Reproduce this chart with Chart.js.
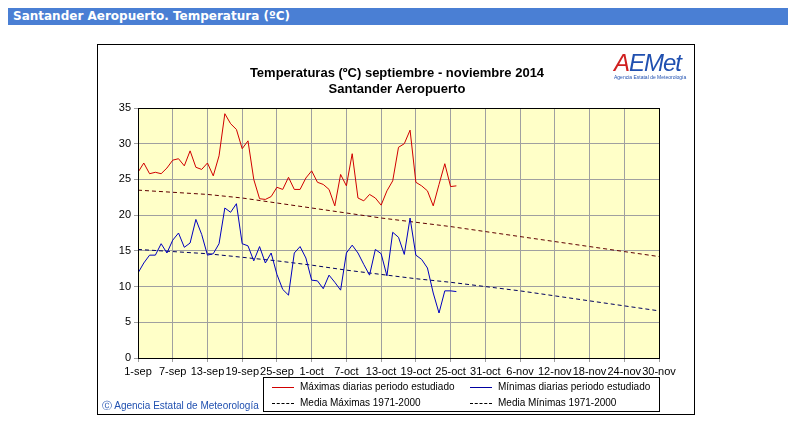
<!DOCTYPE html>
<html><head><meta charset="utf-8">
<script src="https://cdn.jsdelivr.net/npm/chart.js@4"></script>
<style>
body{margin:0;background:#fff;font-family:"Liberation Sans",Arial,sans-serif;}
#hdr{position:absolute;left:8px;top:8px;width:780px;height:17px;background:#4a7fd4;color:#fff;font:bold 12px Verdana,"DejaVu Sans",sans-serif;line-height:17px;padding-left:5px;box-sizing:border-box;}
#box{position:absolute;left:97px;top:44px;width:598px;height:371px;border:1px solid #000;box-sizing:border-box;}
#cv{position:absolute;left:0;top:0;}
#ttl{position:absolute;left:0;width:598px;top:20px;text-align:center;font:bold 13px "Liberation Sans",Arial;color:#000;line-height:16px;}
#logo{position:absolute;left:516px;top:4px;font:italic 24px "Liberation Sans";color:#2050b0;letter-spacing:-1px;}
#logo span{color:#d02020}
#logo small{display:block;font:normal 5px "Liberation Sans";color:#2050b0;margin-top:-3px;white-space:nowrap;letter-spacing:0;}
#leg{position:absolute;left:165px;top:332px;width:397px;height:35px;border:1px solid #000;box-sizing:border-box;font:10px "Liberation Sans";white-space:nowrap;}
.it{position:absolute;height:14px;line-height:14px;}
.ln{display:inline-block;width:22px;vertical-align:middle;margin-right:6px;margin-left:8px;}
#foot{position:absolute;left:4px;top:354px;font:10px "Liberation Sans";color:#2050b0;}
</style></head><body>
<div id="hdr">Santander Aeropuerto. Temperatura (ºC)</div>
<div id="box">
<canvas id="cv" width="596" height="369"></canvas>
<div id="ttl">Temperaturas (ºC) septiembre - noviembre 2014<br>Santander Aeropuerto</div>
<div id="logo"><span>A</span>EMet<small>Agencia Estatal de Meteorología</small></div>
<div id="leg">
<div class="it" style="left:0;top:2px"><span class="ln" style="border-top:1px solid #d00000"></span>Máximas diarias periodo estudiado</div>
<div class="it" style="left:198px;top:2px"><span class="ln" style="border-top:1px solid #0000a0"></span>Mínimas diarias periodo estudiado</div>
<div class="it" style="left:0;top:18px"><span class="ln" style="border-top:1px dashed #000"></span>Media Máximas 1971-2000</div>
<div class="it" style="left:198px;top:18px"><span class="ln" style="border-top:1px dashed #000"></span>Media Mínimas 1971-2000</div>
</div>
<div id="foot">Ⓒ Agencia Estatal de Meteorología</div>
</div>
<script>
const tickLabels=["1-sep","7-sep","13-sep","19-sep","25-sep","1-oct","7-oct","13-oct","19-oct","25-oct","31-oct","6-nov","12-nov","18-nov","24-nov","30-nov"];
const maxDaily=[26.0,27.3,25.8,26.0,25.8,26.6,27.7,27.9,26.9,29.0,26.7,26.4,27.3,25.5,28.3,34.2,32.8,32.0,29.3,30.4,25.0,22.3,22.2,22.6,23.9,23.6,25.3,23.6,23.6,25.2,26.2,24.6,24.3,23.6,21.3,25.7,24.1,28.6,22.4,22.0,22.9,22.4,21.4,23.4,24.8,29.5,30.0,31.9,24.6,24.1,23.4,21.3,24.3,27.2,24.0,24.1];
const minDaily=[11.9,13.3,14.4,14.4,16.0,14.7,16.5,17.5,15.5,16.1,19.4,17.3,14.4,14.6,16.0,21.0,20.4,21.6,16.0,15.7,13.6,15.6,13.3,14.7,11.7,9.6,8.8,14.7,15.6,14.0,10.9,10.8,9.7,11.6,10.6,9.5,14.7,15.8,14.7,13.1,11.6,15.2,14.6,11.5,17.6,16.9,14.5,19.6,14.4,13.8,12.6,9.1,6.3,9.4,9.4,9.3];
const meanMax=[23.5,23.2,22.9,22.4,21.7,21.0,20.3,19.6,19.0,18.4,17.7,17.0,16.3,15.6,14.9,14.2];
const meanMin=[15.2,14.9,14.6,14.1,13.6,13.0,12.3,11.7,11.1,10.6,10.0,9.4,8.7,8.0,7.3,6.6];
const daily=a=>a.map((y,i)=>({x:i,y}));
const atTicks=a=>a.map((y,i)=>({x:i*6,y}));
const bg={id:'bg',beforeDraw(c){const a=c.chartArea,x=c.ctx;x.save();x.fillStyle='#ffffc8';x.fillRect(a.left,a.top,a.right-a.left,a.bottom-a.top);x.restore();},
afterDraw(c){const a=c.chartArea,x=c.ctx;x.save();x.strokeStyle='#000';x.lineWidth=1;x.strokeRect(a.left+0.5,a.top+0.5,a.right-a.left,a.bottom-a.top);x.restore();}};
const gridOpts={color:'#a0a0a0',tickLength:4,lineWidth:1};
new Chart(document.getElementById('cv'),{type:'line',
data:{datasets:[
{data:daily(maxDaily),borderColor:'#d00000',borderWidth:1,pointRadius:0,tension:0},
{data:daily(minDaily),borderColor:'#0000c0',borderWidth:1,pointRadius:0,tension:0},
{data:atTicks(meanMax),borderColor:'#600000',borderWidth:1,borderDash:[4,3],pointRadius:0},
{data:atTicks(meanMin),borderColor:'#000060',borderWidth:1,borderDash:[4,3],pointRadius:0}]},
options:{responsive:false,animation:false,
layout:{padding:{top:63,right:35,left:0,bottom:0}},
plugins:{legend:{display:false},tooltip:{enabled:false}},
scales:{
x:{type:'linear',min:0,max:90,afterFit(s){s.height=56;},
ticks:{stepSize:6,autoSkip:false,maxRotation:0,color:'#000',font:{family:'Liberation Sans',size:11},callback:v=>tickLabels[v/6]},
grid:gridOpts,border:{color:'#000'}},
y:{min:0,max:35,afterFit(s){s.width=40;},
ticks:{stepSize:5,color:'#000',font:{family:'Liberation Sans',size:11}},
grid:gridOpts,border:{color:'#000'}}}},
plugins:[bg]});
</script></body></html>
